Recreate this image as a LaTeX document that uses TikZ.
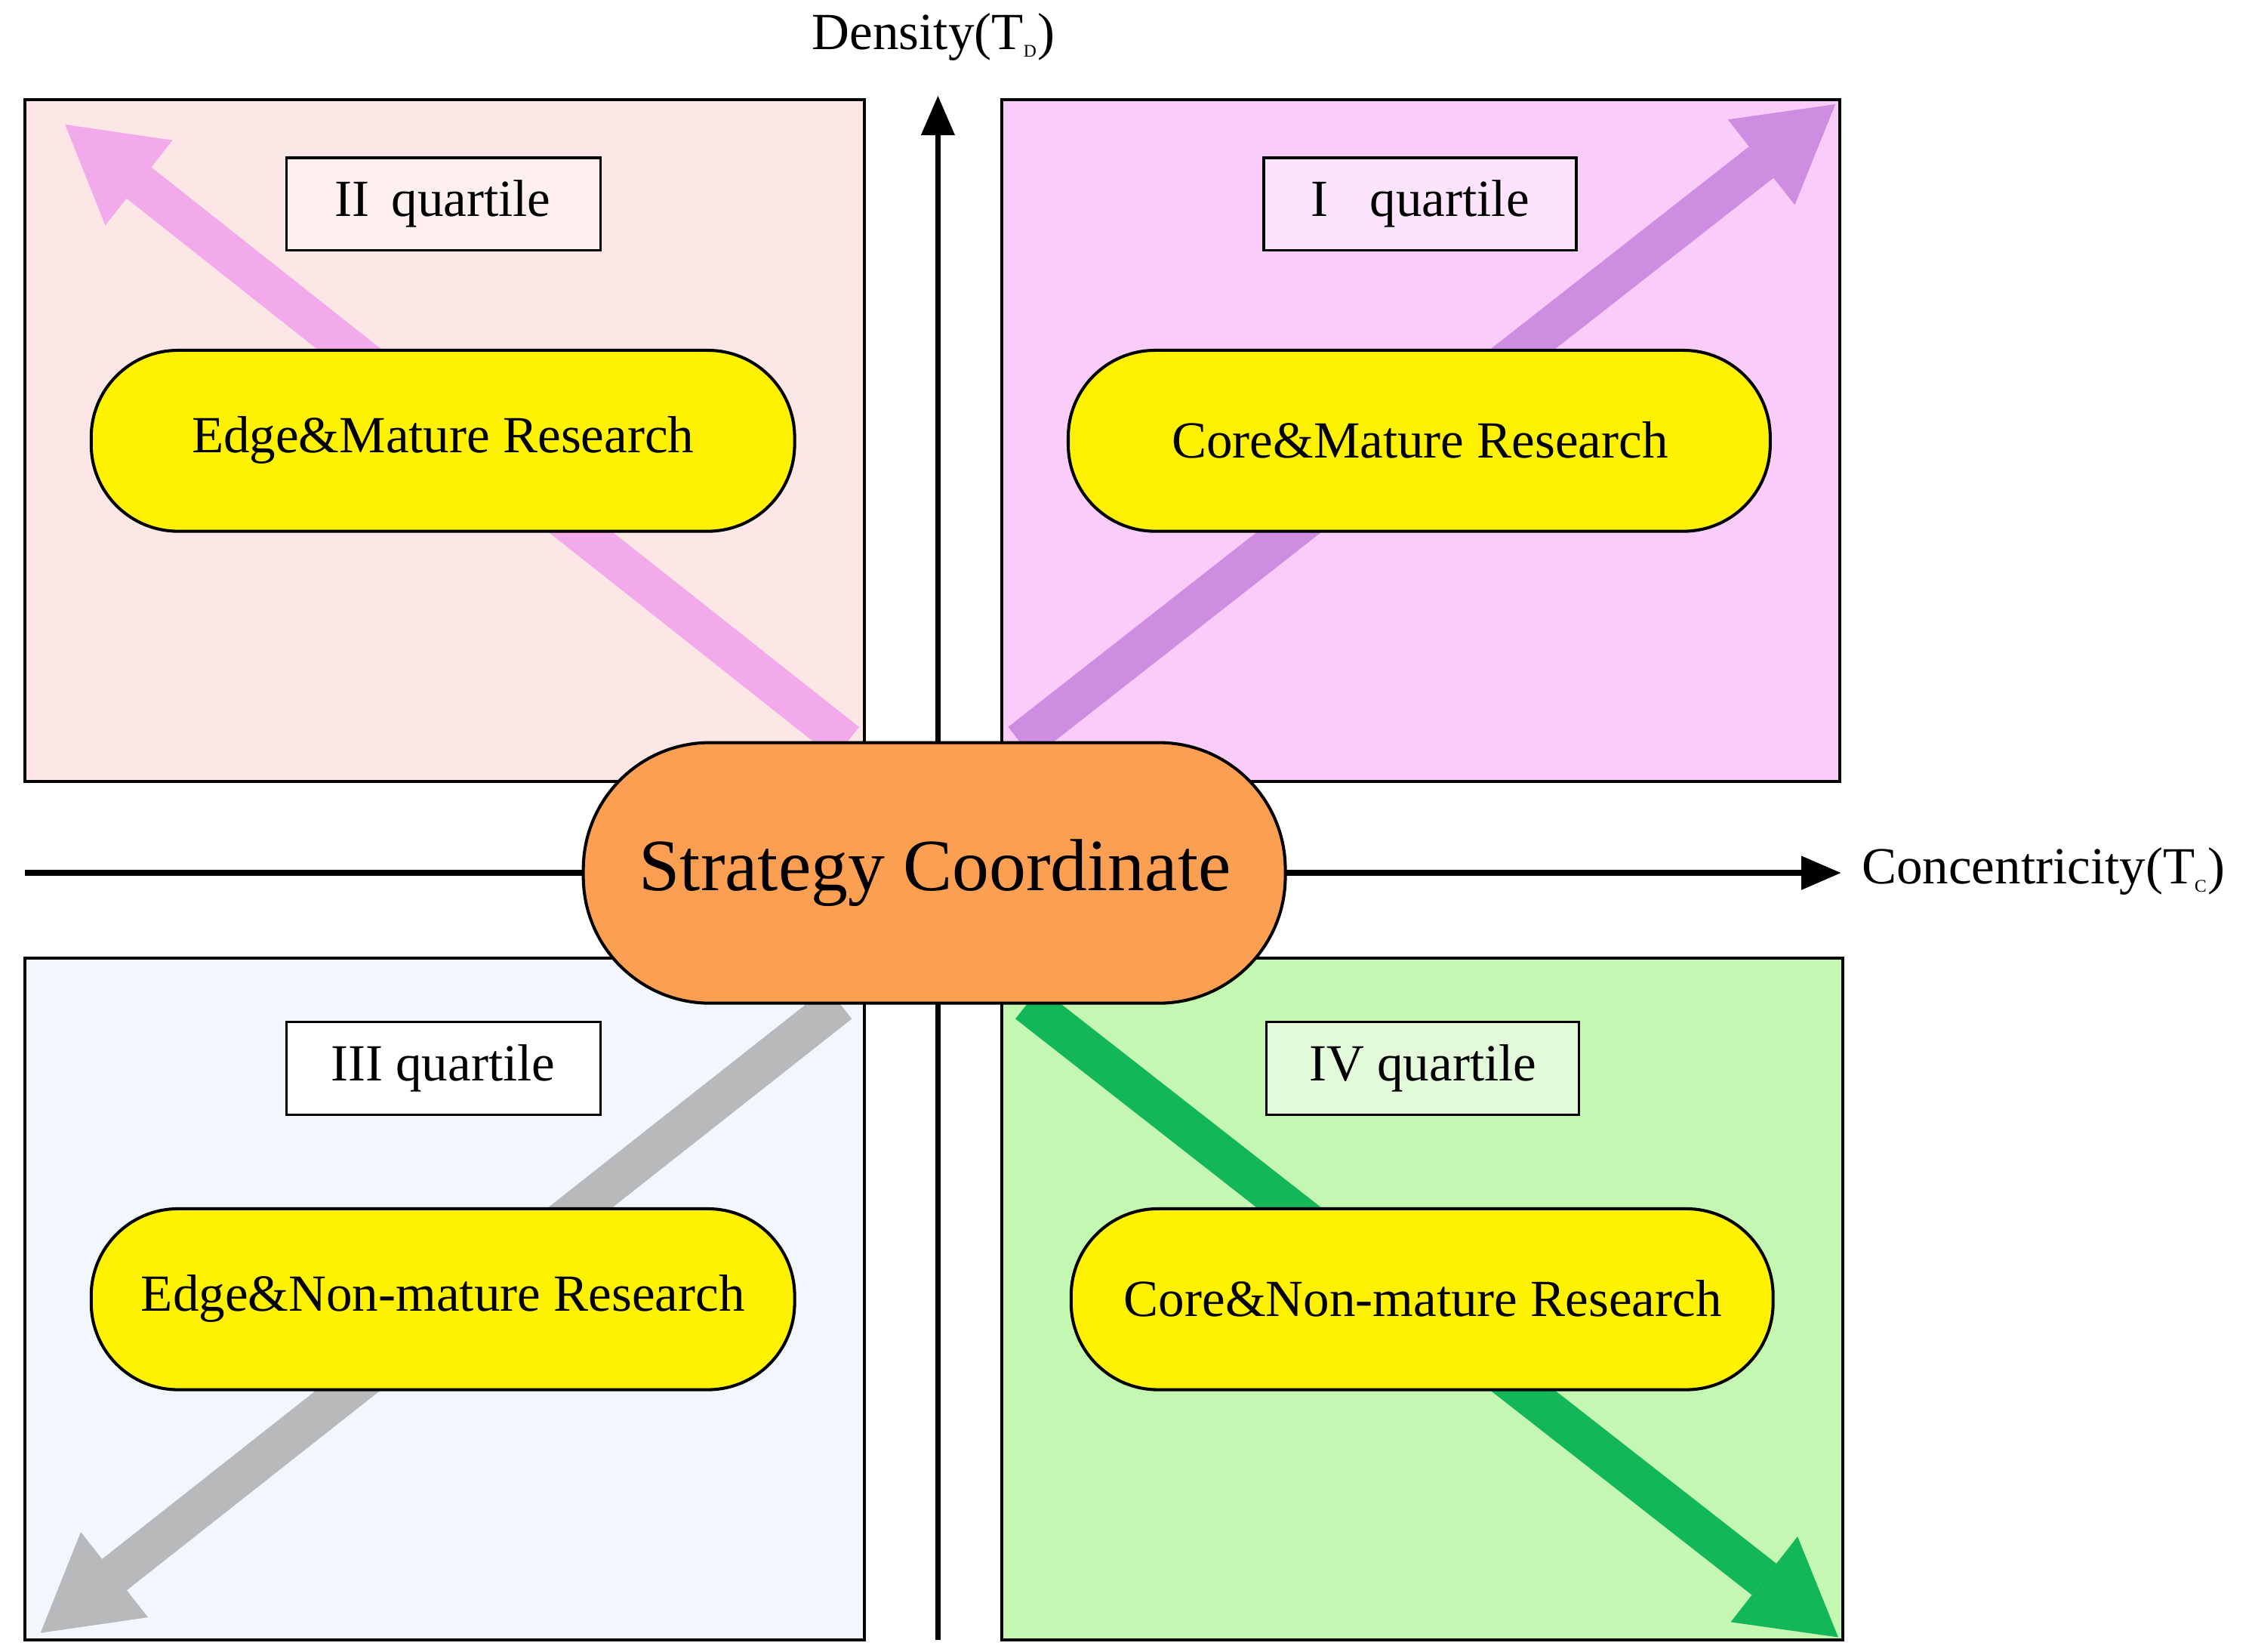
\documentclass[tikz,border=0pt]{standalone}
\usepackage{fontspec}
\setmainfont{Liberation Serif}
\usetikzlibrary{arrows.meta}
\begin{document}
\begin{tikzpicture}[x=0.02cm,y=-0.02cm,
 quad/.style={draw=black,line width=1.2pt},
 stad/.style={draw=black,line width=1.2pt,rounded corners=1.2cm},
 qbox/.style={draw=black,line width=1pt},
 big/.style={line width=0.55cm,-{Triangle[length=1.3cm,width=1.5cm,line width=0pt]}},
 lbl/.style={font=\fontsize{20.5}{23}\selectfont},
 ax/.style={line width=2.2pt,-{Triangle[length=0.55cm,width=0.45cm]}}]
\useasboundingbox (0,0) rectangle (1560,1141);
\fill[fill=white] (0,0) rectangle (1560,1141);
\filldraw[quad,fill={rgb,255:red,253;green,230;blue,230}] (17,69) rectangle (597,540);
\filldraw[quad,fill={rgb,255:red,249;green,204;blue,249}] (692,69) rectangle (1271,540);
\filldraw[quad,fill={rgb,255:red,242;green,246;blue,253}] (17,662) rectangle (597,1133);
\filldraw[quad,fill={rgb,255:red,195;green,247;blue,178}] (692,662) rectangle (1273,1133);
\coordinate (a2s) at (585,513); \coordinate (a2e) at (45,86);
\coordinate (a1s) at (705,513); \coordinate (a1e) at (1268,72);
\coordinate (a3s) at (580,693); \coordinate (a3e) at (28,1128);
\coordinate (a4s) at (710,693); \coordinate (a4e) at (1270,1131);
\begin{scope}[transparency group,opacity=0.85]
\draw[big,color={rgb,255:red,242;green,160;blue,236}] (a2s) -- (a2e);
\end{scope}
\begin{scope}[transparency group,opacity=0.85]
\draw[big,color={rgb,255:red,200;green,130;blue,222}] (a1s) -- (a1e);
\end{scope}
\begin{scope}[transparency group,opacity=0.85]
\draw[big,color={rgb,255:red,175;green,175;blue,175}] (a3s) -- (a3e);
\end{scope}
\begin{scope}[transparency group,opacity=0.9]
\draw[big,color={rgb,255:red,0;green,176;blue,80}] (a4s) -- (a4e);
\end{scope}
\coordinate (vb) at (648,1133); \coordinate (vt) at (648,66);
\coordinate (hl) at (17,603); \coordinate (hr) at (1272,603);
\draw[ax] (vb) -- (vt);
\draw[ax] (hl) -- (hr);
\node[lbl,anchor=south] (dl) at (645,48) {Density(T\textsubscript{\scriptsize D})};
\node[lbl,anchor=west] (cl) at (1280,602) {Concentricity(T\textsubscript{\scriptsize C})};
\filldraw[stad,rounded corners=1.75cm,fill={rgb,255:red,251;green,159;blue,82}] (403,513) rectangle (888,693);
\node[font=\fontsize{29}{32}\selectfont] (sc) at (646,603) {Strategy Coordinate};
\filldraw[stad,fill=yellow] (63,242) rectangle (549,367);
\node[lbl] (n2) at (306,304) {Edge\&Mature Research};
\filldraw[stad,fill=yellow] (738,242) rectangle (1223,367);
\node[lbl] (n1) at (981,304) {Core\&Mature Research};
\filldraw[stad,fill=yellow] (63,835) rectangle (549,960);
\node[lbl] (n3) at (306,897) {Edge\&Non-mature Research};
\filldraw[stad,fill=yellow] (740,835) rectangle (1225,960);
\node[lbl] (n4) at (983,897) {Core\&Non-mature Research};
\filldraw[qbox,fill={rgb,255:red,254;green,240;blue,240}] (198,109) rectangle (415,173);
\node[lbl] (q2) at (306,141) {II\, quartile};
\filldraw[qbox,fill={rgb,255:red,252;green,228;blue,252}] (873,109) rectangle (1089,173);
\node[lbl] (q1) at (981,141) {I\;\; quartile};
\filldraw[qbox,fill=white] (198,706) rectangle (415,770);
\node[lbl] (q3) at (306,738) {III quartile};
\filldraw[qbox,fill={rgb,255:red,226;green,250;blue,218}] (875,706) rectangle (1091,770);
\node[lbl] (q4) at (983,738) {IV quartile};
\end{tikzpicture}
\end{document}
